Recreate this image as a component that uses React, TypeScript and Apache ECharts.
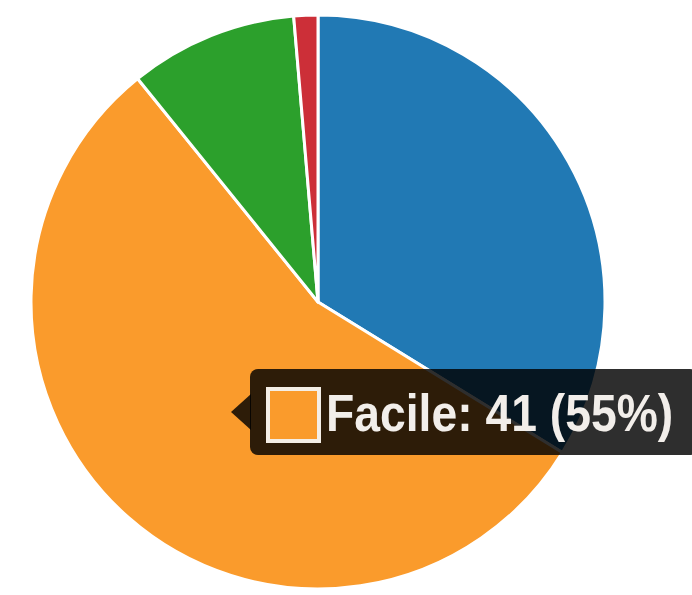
import React, { useEffect, useRef } from "react";
import * as echarts from "echarts";

const categories = ["Moyen", "Facile", "Difficile", "Très difficile"];
const values = [25, 41, 7, 1];
const colors = ["#2179b4", "#fa9b2c", "#2ca02c", "#cc2f38"];
const highlightIndex = 1;

export default function App() {
  const ref = useRef<HTMLDivElement>(null);
  useEffect(() => {
    if (!ref.current) return;
    const chart = echarts.init(ref.current, undefined, { renderer: "svg" });
    const total = values.reduce((a, b) => a + b, 0);
    const pct = Math.round((values[highlightIndex] / total) * 100);
    const tipText = `${categories[highlightIndex]}: ${values[highlightIndex]} (${pct}%)`;
    chart.setOption({
      animation: false,
      backgroundColor: "#ffffff",
      series: [
        {
          type: "pie",
          center: [318, 302],
          radius: 287,
          startAngle: 90,
          clockwise: true,
          label: { show: false },
          labelLine: { show: false },
          emphasis: { disabled: true },
          itemStyle: { borderColor: "#ffffff", borderWidth: 3 },
          data: categories.map((c, i) => ({
            name: c,
            value: values[i],
            itemStyle: { color: colors[i] },
          })),
        },
      ],
      graphic: [
        {
          type: "rect",
          z: 100,
          shape: { x: 250, y: 369, width: 448, height: 86, r: 8 },
          style: { fill: "rgba(0,0,0,0.82)" },
        },
        {
          type: "polygon",
          z: 100,
          shape: { points: [[231, 412], [251, 394], [251, 430]] },
          style: { fill: "rgba(0,0,0,0.82)" },
        },
        {
          type: "rect",
          z: 101,
          shape: { x: 268, y: 389, width: 51, height: 52 },
          style: { fill: colors[highlightIndex], stroke: "#f4eee6", lineWidth: 4 },
        },
        {
          type: "text",
          z: 101,
          x: 326,
          y: 413,
          scaleX: 0.89,
          style: {
            text: tipText,
            fill: "#f2eeea",
            font: "bold 52px 'Liberation Sans', Arial, sans-serif",
            verticalAlign: "middle",
          },
        },
      ],
    });
    return () => chart.dispose();
  }, []);
  return (
    <div
      ref={ref}
      style={{ position: "fixed", left: 0, top: 0, width: 692, height: 595 }}
    />
  );
}
